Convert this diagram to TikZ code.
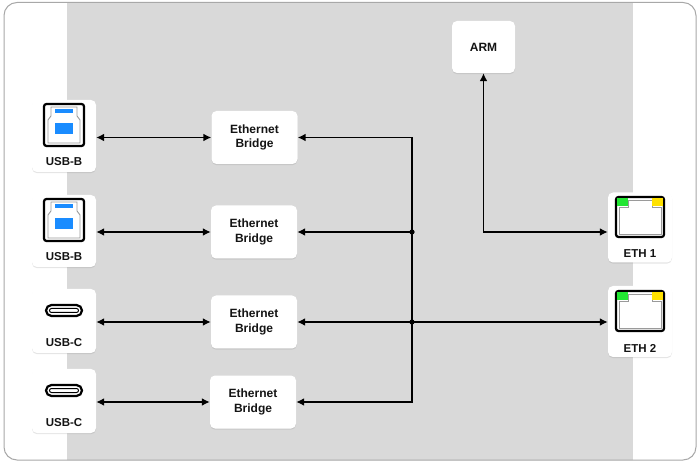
\documentclass[tikz,border=0pt]{standalone}
\usepackage{fontspec}
\setmainfont{Liberation Sans}
\usetikzlibrary{arrows.meta,shadows,calc}
\definecolor{bggray}{HTML}{D9D9D9}
\definecolor{framegray}{HTML}{A8A8A8}
\definecolor{usbblue}{HTML}{1A8CFF}
\definecolor{ethgreen}{HTML}{22E633}
\definecolor{ethyellow}{HTML}{FFE100}
\definecolor{txt}{HTML}{141414}
\definecolor{portgray}{HTML}{9A9A9A}
\begin{document}
\begin{tikzpicture}[x=1pt,y=-1pt,
  box/.style={draw=none, fill=white, rounded corners=5pt,
    drop shadow={shadow xshift=0pt,shadow yshift=-1.2pt,opacity=0.2},
    inner sep=0pt, text=txt, align=center,
    font=\bfseries\fontsize{12}{14.5}\selectfont},
  lbl/.style={inner sep=0pt, text=txt, font=\bfseries\fontsize{11.5}{13}\selectfont},
  conn/.style={line width=1.8pt, -{Latex[length=8pt,width=8pt]}},
  conn2/.style={line width=1.8pt, {Latex[length=8pt,width=8pt]}-{Latex[length=8pt,width=8pt]}},
  usbbicon/.pic={
    \draw[line width=2.2pt, rounded corners=2.5pt] (-20,-32) rectangle (20,10);
    \draw[portgray, line width=0.9pt] (-16,7) -- (-16,-16) -- (-13,-20) -- (-13,-29) -- (13,-29) -- (13,-20) -- (16,-16) -- (16,7) -- cycle;
    \fill[usbblue] (-9,-27) rectangle (9,-23);
    \fill[usbblue] (-9,-13) rectangle (9,-2);
  },
  usbcicon/.pic={
    \draw[line width=2.2pt, rounded corners=5.5pt] (-18,-16) rectangle (18,-5);
    \draw[line width=1pt, rounded corners=2pt] (-14.5,-12.5) rectangle (14.5,-8.5);
  },
  ethicon/.pic={
    \draw[line width=2.2pt, rounded corners=2.5pt] (-24,-30.5) rectangle (24,9.5);
    \draw[portgray, line width=0.9pt] (-21,6.5) -- (-21,-20.5) -- (-12,-20.5) -- (-12,-27) -- (12,-27) -- (12,-20.5) -- (21,-20.5) -- (21,6.5) -- cycle;
    \fill[ethgreen] (-22.9,-29.4) rectangle (-12,-21);
    \fill[ethyellow] (12,-29.4) rectangle (22.9,-21);
  }
]
\useasboundingbox (0,0) rectangle (699,462);
% frame and gray band
\fill[white, rounded corners=13pt] (4,2.5) rectangle (696,460);
\begin{scope}
  \clip[rounded corners=13pt] (4,2.5) rectangle (696,460);
  \fill[bggray] (67,0) rectangle (633,462);
\end{scope}
\draw[framegray, line width=1pt, rounded corners=13pt] (4,2.5) rectangle (696,460);

% USB boxes
\node[box, minimum width=64pt, minimum height=72pt] (usbb1) at (64,136) {};
\node[box, minimum width=64pt, minimum height=72pt] (usbb2) at (64,231) {};
\node[box, minimum width=64pt, minimum height=64pt] (usbc1) at (64,321) {};
\node[box, minimum width=64pt, minimum height=64pt] (usbc2) at (64,401) {};
\pic at (usbb1) {usbbicon};
\pic at (usbb2) {usbbicon};
\pic at (usbc1) {usbcicon};
\pic at (usbc2) {usbcicon};
\node[lbl] (usbb1t) at ($(usbb1)+(0,25.5)$) {USB-B};
\node[lbl] (usbb2t) at ($(usbb2)+(0,25.5)$) {USB-B};
\node[lbl] (usbc1t) at ($(usbc1)+(0,22)$) {USB-C};
\node[lbl] (usbc2t) at ($(usbc2)+(0,22)$) {USB-C};

% bridges
\node[box, minimum width=86pt, minimum height=53pt] (br1) at (254.5,137.5) {Ethernet\\Bridge};
\node[box, minimum width=86pt, minimum height=53pt] (br2) at (254,232) {Ethernet\\Bridge};
\node[box, minimum width=86pt, minimum height=53pt] (br3) at (254,322) {Ethernet\\Bridge};
\node[box, minimum width=86pt, minimum height=53pt] (br4) at (253,402) {Ethernet\\Bridge};

% ARM
\node[box, minimum width=63pt, minimum height=52pt] (arm) at (483.5,47) {ARM};

% ETH
\node[box, minimum width=64pt, minimum height=70pt] (eth1) at (640,227.5) {};
\node[box, minimum width=64pt, minimum height=71pt] (eth2) at (640,321.5) {};
\pic at (eth1) {ethicon};
\pic at (eth2) {ethicon};
\node[lbl] (eth1t) at ($(eth1)+(0,26.5)$) {ETH 1};
\node[lbl] (eth2t) at ($(eth2)+(0,26.5)$) {ETH 2};

% USB <-> bridge
\draw[conn2] (br1.west -| usbb1.east) -- (br1.west);
\draw[conn2] (br2.west -| usbb2.east) -- (br2.west);
\draw[conn2] (br3.west -| usbc1.east) -- (br3.west);
\draw[conn2] (br4.west -| usbc2.east) -- (br4.west);

% bus
\coordinate (busx) at (412,0);
\coordinate (j1) at (br1.east -| busx);
\coordinate (j2) at (br2.east -| busx);
\coordinate (j3) at (br3.east -| busx);
\coordinate (j4) at (br4.east -| busx);
\draw[conn] (j4) -- (j1) -- (br1.east);
\draw[conn, line cap=rect] (j4) -- (br4.east);
\draw[conn] (j2) -- (br2.east);
\draw[conn2] (br3.east) -- (br3.east -| eth2.west);
\fill (j2) circle (2.6pt);
\fill (j3) circle (2.6pt);

% ARM <-> ETH1
\draw[conn2] (arm.south) |- (j2 -| eth1.west);
\end{tikzpicture}
\end{document}
